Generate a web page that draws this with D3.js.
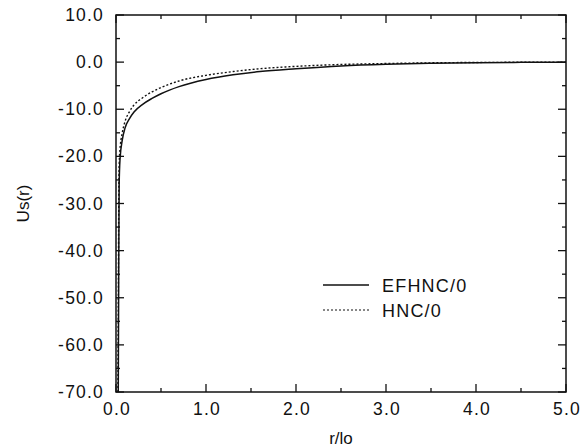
<!DOCTYPE html>
<html>
<head>
<meta charset="utf-8">
<script src="https://cdn.jsdelivr.net/npm/d3@7"></script>
<style>
  body { margin: 0; background: #fff; }
  text { font-family: "Liberation Sans", Arial, sans-serif; fill: #111; }
</style>
</head>
<body>
<svg id="chart" width="581" height="448"></svg>
<script>
// values
const rEF = [0.025, 0.03, 0.035, 0.045, 0.07, 0.1, 0.15, 0.2, 0.3, 0.4, 0.5, 0.7, 1.0, 1.3, 1.6, 2.0, 2.5, 3.0, 3.5, 4.0, 4.5, 5.0];
const usEF = [-70, -45, -26, -20.5, -16.5, -14, -12, -10.6, -8.9, -7.7, -6.7, -5.2, -3.7, -2.7, -2.0, -1.4, -0.8, -0.45, -0.25, -0.12, -0.05, 0];
const rHNC = [0.022, 0.027, 0.032, 0.04, 0.07, 0.1, 0.15, 0.2, 0.3, 0.4, 0.5, 0.7, 1.0, 1.3, 1.6, 2.0, 2.5, 3.0, 3.5, 4.0, 4.5, 5.0];
const usHNC = [-70, -45, -26, -19.5, -15, -12.6, -10.5, -9.1, -7.5, -6.3, -5.4, -4.0, -2.8, -2.0, -1.4, -0.9, -0.5, -0.3, -0.15, -0.07, -0.03, 0];
const xTicks = [0, 1, 2, 3, 4, 5];
const yTicks = [10, 0, -10, -20, -30, -40, -50, -60, -70];
const seriesNames = ["EFHNC/0", "HNC/0"];

const pLeft = 116, pRight = 566, pTop = 15, pBottom = 392;
const x = d3.scaleLinear().domain([0, 5]).range([pLeft, pRight]);
const y = d3.scaleLinear().domain([-70, 10]).range([pBottom, pTop]);

const svg = d3.select("#chart");

// frame
svg.append("rect")
    .attr("x", pLeft).attr("y", pTop)
    .attr("width", pRight - pLeft).attr("height", pBottom - pTop)
    .attr("fill", "none").attr("stroke", "#111").attr("stroke-width", 1.5);

// ticks, pointing inward on all sides
const xMinor = d3.range(0.5, 5, 1);
const yMinor = d3.range(-65, 10, 10);
function tickMarks(vals, len, axis) {
    vals.forEach(v => {
        if (axis === "x") {
            svg.append("line").attr("x1", x(v)).attr("x2", x(v)).attr("y1", pBottom).attr("y2", pBottom - len);
            svg.append("line").attr("x1", x(v)).attr("x2", x(v)).attr("y1", pTop).attr("y2", pTop + len);
        } else {
            svg.append("line").attr("y1", y(v)).attr("y2", y(v)).attr("x1", pLeft).attr("x2", pLeft + len);
            svg.append("line").attr("y1", y(v)).attr("y2", y(v)).attr("x1", pRight).attr("x2", pRight - len);
        }
    });
}
tickMarks(xTicks, 8, "x");
tickMarks(xMinor, 4, "x");
tickMarks(yTicks, 8, "y");
tickMarks(yMinor, 4, "y");
svg.selectAll("line").attr("stroke", "#111").attr("stroke-width", 1.3);

// tick labels
svg.selectAll(".xl")
    .data(xTicks)
    .enter()
    .append("text")
    .attr("x", d => x(d) + 1)
    .attr("y", 415)
    .attr("text-anchor", "middle")
    .attr("font-size", 17.5)
    .attr("letter-spacing", 1.2)
    .text(d => d.toFixed(1));

svg.selectAll(".yl")
    .data(yTicks)
    .enter()
    .append("text")
    .attr("x", 104)
    .attr("y", d => y(d))
    .attr("dy", 6)
    .attr("text-anchor", "end")
    .attr("font-size", 17.5)
    .attr("letter-spacing", 1.2)
    .text(d => d.toFixed(1));

// axis titles
svg.append("text")
    .attr("x", (pLeft + pRight) / 2)
    .attr("y", 444)
    .attr("text-anchor", "middle")
    .attr("font-size", 17)
    .text("r/lo");

svg.append("text")
    .attr("transform", `translate(29, ${(pTop + pBottom) / 2}) rotate(-90)`)
    .attr("text-anchor", "middle")
    .attr("font-size", 17)
    .text("Us(r)");

// curves
const line = d3.line()
    .x(d => x(d[0]))
    .y(d => y(d[1]))
    .curve(d3.curveMonotoneX);

svg.append("path")
    .datum(rEF.map((r, i) => [r, usEF[i]]))
    .attr("d", line)
    .attr("fill", "none")
    .attr("stroke", "#111")
    .attr("stroke-width", 1.5);

svg.append("path")
    .datum(rHNC.map((r, i) => [r, usHNC[i]]))
    .attr("d", line)
    .attr("fill", "none")
    .attr("stroke", "#111")
    .attr("stroke-width", 1.4)
    .attr("stroke-dasharray", "2,2");

// legend
const legend = svg.append("g");
seriesNames.forEach((name, i) => {
    let ly = 285 + i * 25;
    legend.append("line")
        .attr("x1", 323).attr("x2", 369)
        .attr("y1", ly).attr("y2", ly)
        .attr("stroke", "#111")
        .attr("stroke-width", i === 0 ? 1.5 : 1.2)
        .attr("stroke-dasharray", i === 0 ? null : "2,2");
    legend.append("text")
        .attr("x", 382)
        .attr("y", ly + 7)
        .attr("font-size", 18)
        .attr("letter-spacing", 1.2)
        .text(name);
});
</script>
</body>
</html>
